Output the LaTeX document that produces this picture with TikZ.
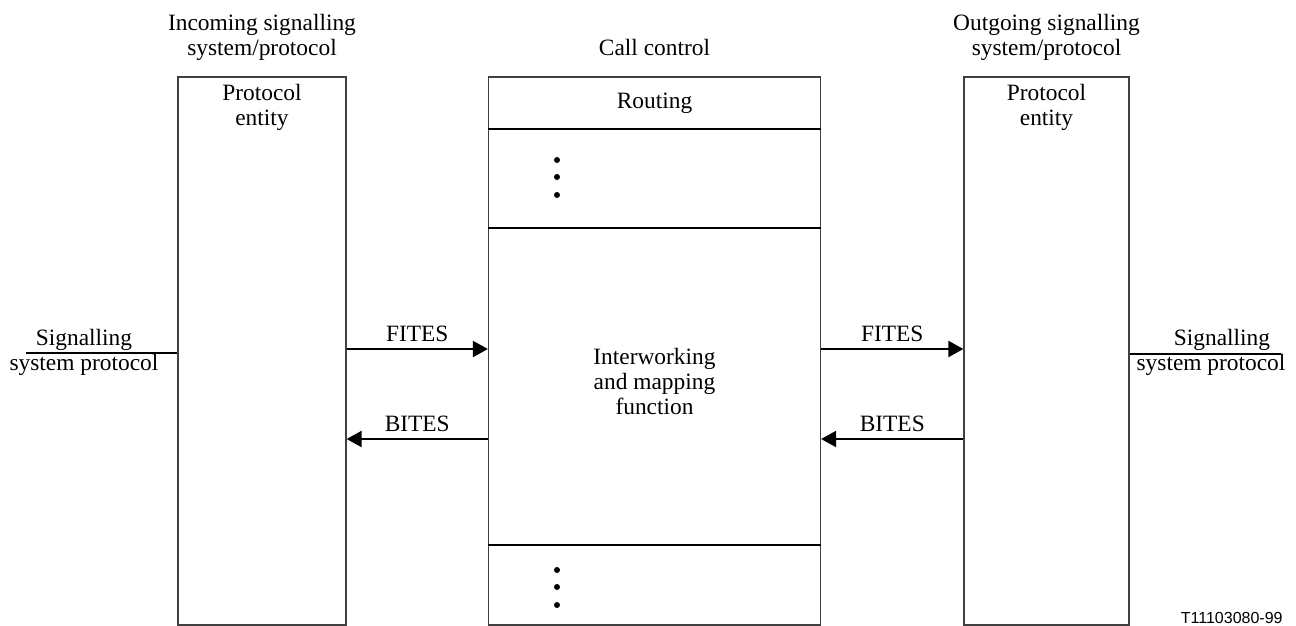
\documentclass[tikz,border=0pt]{standalone}
\usepackage{fontspec}
\setmainfont{Liberation Serif}
\newfontfamily\figidfont{Liberation Sans}
\usepackage{tikz}
\usetikzlibrary{arrows.meta,positioning}
\tikzset{
  entitybox/.style={
    draw=black!75,
    line width=0.6pt,
    inner sep=0pt,
    minimum height=274pt
  },
  divider/.style={line width=1pt},
  headlabel/.style={align=center, inner sep=0pt, text depth=3pt},
  boxtext/.style={align=center, inner sep=0pt},
  flow/.style={-{Triangle[length=7.5pt,width=8pt]}, line width=1pt},
  sigline/.style={line width=1pt},
  ellipsisdot/.style={fill, circle, inner sep=0pt, minimum size=3pt}
}

\begin{document}
\begin{tikzpicture}[
  x=0.5pt, y=-0.5pt,
  every node/.style={font=\fontsize{11.7}{12.5}\selectfont}
]
\useasboundingbox (0,0) rectangle (1296,626);

\node[entitybox, minimum width=84pt] (inent) at (262,351) {};
\node[entitybox, minimum width=166pt] (callctl) at (654.5,351) {};
\node[entitybox, minimum width=82.5pt] (outent) at (1046.5,351) {};

\node[headlabel, above=7pt of inent] (inhead) {Incoming signalling\\system/protocol};
\node[headlabel, above=7pt of callctl] (cchead) {Call control};
\node[headlabel, above=7pt of outent] (outhead) {Outgoing signalling\\system/protocol};

\node[boxtext, below=3.5pt of inent.north] (inpe) {Protocol\\entity};
\node[boxtext, below=3.5pt of outent.north] (outpe) {Protocol\\entity};

% call control sections
\draw[divider] (callctl.west |- 0,129) -- (callctl.east |- 0,129);
\draw[divider] (callctl.west |- 0,228) -- (callctl.east |- 0,228);
\draw[divider] (callctl.west |- 0,545) -- (callctl.east |- 0,545);
\node[boxtext, anchor=base] (routing) at (654.5,109) {Routing};
\foreach \y [count=\i] in {160,177,195} \node[ellipsisdot] (updot\i) at (557,\y) {};
\node[boxtext] (iwf) at (654.5,381) {Interworking\\and mapping\\function};
\foreach \y [count=\i] in {570,587,605} \node[ellipsisdot] (lowdot\i) at (557,\y) {};

\draw[flow] ([yshift=1pt]inent.east) -- node[above] (fitesin) {FITES} ([yshift=1pt]callctl.west);
\draw[flow] ([yshift=-44pt]callctl.west) -- node[above] (bitesin) {BITES} ([yshift=-44pt]inent.east);
\draw[flow] ([yshift=1pt]callctl.east) -- node[above] (fitesout) {FITES} ([yshift=1pt]outent.west);
\draw[flow] ([yshift=-44pt]outent.west) -- node[above] (bitesout) {BITES} ([yshift=-44pt]callctl.east);

\coordinate (sigin) at (26,353);
\draw[sigline] (sigin) -- (sigin -| inent.west);
\node[boxtext, anchor=base] (sigintop) at (84,345) {Signalling};
\node[boxtext, anchor=base] (siginbot) at (84,370) {system protocol};

\coordinate (sigout) at (1281,354);
\draw[sigline] (sigout -| outent.east) -- (sigout);
\node[boxtext, anchor=base] (sigouttop) at (1222,345) {Signalling};
\node[boxtext, anchor=base] (sigoutbot) at (1211,370) {system protocol};

\node[anchor=base east, inner sep=0pt, font=\figidfont\fontsize{8}{9.6}\selectfont] (figid) at (1283,623) {T11103080-99};
\end{tikzpicture}
\end{document}
